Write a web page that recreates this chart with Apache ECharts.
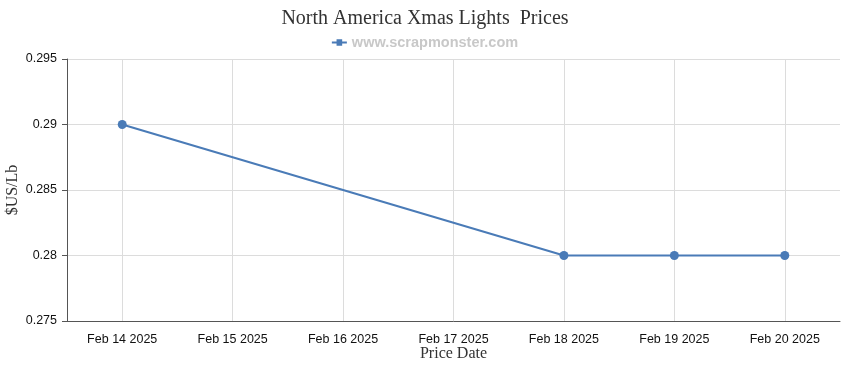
<!DOCTYPE html>
<html><head><meta charset="utf-8">
<script src="https://cdn.jsdelivr.net/npm/echarts@6/dist/echarts.min.js"></script>
<style>html,body{margin:0;padding:0;background:#fff}#c{width:850px;height:370px}</style>
</head><body><div id="c"></div>
<script>
var categories = ['Feb 14 2025','Feb 15 2025','Feb 16 2025','Feb 17 2025','Feb 18 2025','Feb 19 2025','Feb 20 2025'];
var prices = [0.29, null, null, null, 0.28, 0.28, 0.28];
var yTicks = [0.275, 0.28, 0.285, 0.29, 0.295];
var seriesName = 'www.scrapmonster.com';
var titleText = 'North America Xmas Lights  Prices';

var sans = '"Liberation Sans", Arial, sans-serif';
var serif = '"Liberation Serif", "DejaVu Serif", serif';
var blue = '#4a7bb7';
var chart = echarts.init(document.getElementById('c'), null, {renderer:'canvas'});
chart.setOption({
  animation: false,
  title: {text: titleText, left: 'center', top: 4,
    textStyle: {fontFamily: serif, fontSize: 20, fontWeight: 'normal', color: '#333'}},
  legend: {data: [{name: seriesName, icon: 'path://M0,3 L16,3 L16,5 L0,5 Z M5,0.5 L11,0.5 L11,7.5 L5,7.5 Z'}],
    top: 30, left: 'center', itemWidth: 15, itemHeight: 7, itemGap: 5,
    textStyle: {fontFamily: sans, fontSize: 14.5, fontWeight: 'bold', color: '#c8c8c8'}},
  grid: {left: 67, right: 10, top: 59, bottom: 49, outerBoundsMode: 'none', containLabel: false},
  xAxis: {type: 'category', data: categories, boundaryGap: true,
    name: 'Price Date', nameLocation: 'middle', nameGap: 25, nameMoveOverlap: false,
    nameTextStyle: {fontFamily: serif, fontSize: 16, color: '#333', verticalAlign: 'top'},
    axisLine: {lineStyle: {color: '#555', width: 1}},
    axisTick: {alignWithLabel: true, length: 5, lineStyle: {color: '#555'}},
    axisLabel: {fontFamily: sans, fontSize: 12.5, color: '#111', margin: 12},
    splitLine: {show: false}},
  yAxis: {type: 'value', min: yTicks[0], max: yTicks[yTicks.length-1], interval: 0.005,
    name: '$US/Lb', nameLocation: 'middle', nameGap: 46, nameRotate: 90, nameMoveOverlap: false,
    nameTextStyle: {fontFamily: serif, fontSize: 16, color: '#333'},
    axisLine: {show: true, lineStyle: {color: '#555'}},
    axisTick: {show: true, length: 5, lineStyle: {color: '#555'}},
    axisLabel: {fontFamily: sans, fontSize: 12.5, color: '#111', margin: 10,
      formatter: function(v){ return String(+v.toFixed(3)); }},
    splitLine: {lineStyle: {color: '#dcdcdc'}}},
  series: [{name: seriesName, type: 'line', data: prices, connectNulls: true, z: 3,
    symbol: 'circle', symbolSize: 9, color: blue,
    lineStyle: {width: 2, color: blue}, itemStyle: {color: blue},
    markLine: {silent: true, symbol: 'none', z: 1, animation: false,
      label: {show: false}, lineStyle: {color: '#dcdcdc', type: 'solid', width: 1},
      emphasis: {disabled: true},
      data: categories.map(function(c){ return {xAxis: c}; })}}]
});
</script></body></html>
